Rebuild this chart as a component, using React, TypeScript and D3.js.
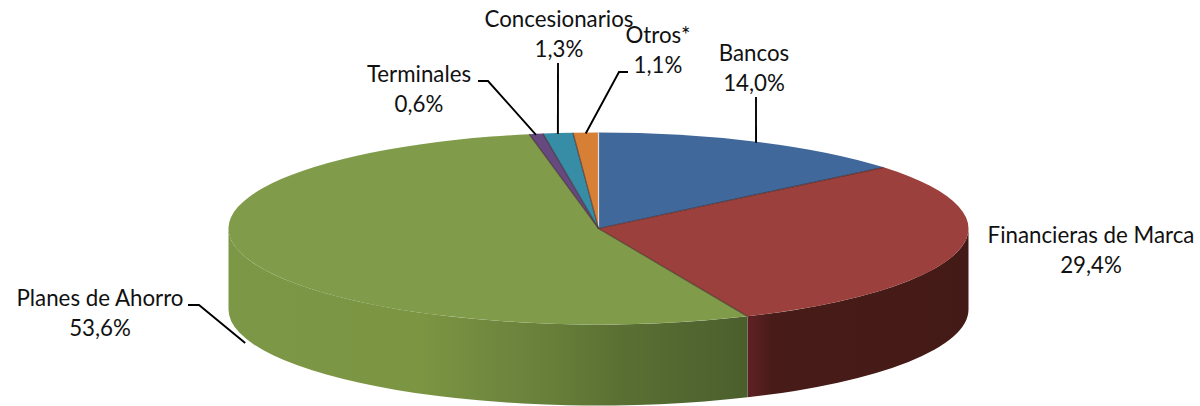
import { useEffect, useRef } from 'react';
import * as d3 from 'd3';

const WIDTH = 1200;
const HEIGHT = 406;

// participacion por canal, en el orden de la torta (sentido horario desde las 12)
const categories = ['Bancos', 'Financieras de Marca', 'Planes de Ahorro', 'Terminales', 'Concesionarios', 'Otros*'];
const shares = [14.0, 29.4, 53.6, 0.6, 1.3, 1.1];
const topColors = ['#41689a', '#9b403d', '#809b49', '#65497f', '#378ca6', '#d67f35'];

// geometria de la torta
const CX = 598.5;
const CY = 228.5;
const RX = 370;
const RY = 96;
const DEPTH = 81;

// ubicacion de cada etiqueta (centro del texto y linea base del nombre)
const labelX = [754, 1091, 100, 419, 559, 658];
const labelY = [61, 243, 306, 82, 27, 43];
const LINE_GAP = 30;

// recorrido de las lineas guia: desde donde salen, codo opcional y caida extra sobre el borde
const leaderStart: [number, number][] = [[756, 97], [0, 0], [188, 305], [478, 81], [558, 63], [628, 72]];
const leaderElbow: ([number, number] | null)[] = [null, null, [199, 305], [488, 81], null, [619, 72]];
const leaderDrop = [0, 0, 85, 0, 0, 0];
const hasLeader = [true, false, true, true, true, true];

const fmt = (v: number) => `${v.toFixed(1).replace('.', ',')}%`;

export default function App() {
  const svgRef = useRef<SVGSVGElement>(null);

  useEffect(() => {
    if (!svgRef.current) return;
    const svg = d3.select(svgRef.current);
    svg.selectAll('*').remove();

    const data = shares.map((value, i) => ({ value, i }));
    const arcs = d3.pie<{ value: number; i: number }>().value((d) => d.value).sort(null)(data);

    const px = d3.scaleLinear().domain([-1, 1]).range([CX - RX, CX + RX]);
    const py = d3.scaleLinear().domain([-1, 1]).range([CY - RY, CY + RY]);
    const pt = (a: number, dy = 0): [number, number] => [px(Math.sin(a)), py(-Math.cos(a)) + dy];

    // degradados del lateral
    const defs = svg.append('defs');
    const addGrad = (id: string, stops: [number, string][]) => {
      const g = defs
        .append('linearGradient')
        .attr('id', id)
        .attr('gradientUnits', 'userSpaceOnUse')
        .attr('x1', CX - RX)
        .attr('x2', CX + RX)
        .attr('y1', 0)
        .attr('y2', 0);
      stops.forEach(([o, c]) => g.append('stop').attr('offset', o).attr('stop-color', c));
    };
    addGrad('side-green', [
      [0, '#7c9746'],
      [0.26, '#7b9543'],
      [0.39, '#6c843c'],
      [0.45, '#657d38'],
      [0.53, '#5a7033'],
      [0.7, '#4b5f2d'],
    ]);
    addGrad('side-red', [
      [0.7, '#5e2026'],
      [0.71, '#5a2022'],
      [0.735, '#471b18'],
      [1, '#441a17'],
    ]);

    // lateral: solo la parte frontal (de 90 a 270 grados) queda a la vista
    const sidePath = (a0: number, a1: number) => {
      const from = Math.max(a0, Math.PI / 2);
      const to = Math.min(a1, (3 * Math.PI) / 2);
      const [x0, y0] = pt(from);
      const [x1, y1] = pt(to);
      return `M${x0},${y0}A${RX},${RY} 0 0 1 ${x1},${y1}L${x1},${y1 + DEPTH}A${RX},${RY} 0 0 0 ${x0},${y0 + DEPTH}Z`;
    };
    const sideFill = ['', 'url(#side-red)', 'url(#side-green)'];
    svg
      .append('g')
      .selectAll('path')
      .data(arcs.filter((d) => d.data.i === 1 || d.data.i === 2))
      .join('path')
      .attr('d', (d) => sidePath(d.startAngle, d.endAngle))
      .attr('fill', (d) => sideFill[d.data.i]);

    // cara superior: d3.arc circular aplastado a elipse
    const arc = d3.arc<d3.PieArcDatum<{ value: number; i: number }>>().innerRadius(0).outerRadius(RX);
    svg
      .append('g')
      .attr('transform', `translate(${CX},${CY}) scale(1,${RY / RX})`)
      .selectAll('path')
      .data(arcs)
      .join('path')
      .attr('d', arc)
      .attr('fill', (d) => topColors[d.data.i]);

    // filetes entre porciones, solo en los radios
    svg
      .append('g')
      .selectAll('line')
      .data(arcs)
      .join('line')
      .attr('x1', CX)
      .attr('y1', CY)
      .attr('x2', (d) => pt(d.startAngle)[0])
      .attr('y2', (d) => pt(d.startAngle)[1])
      .attr('stroke', (d) => (d.data.i === 0 ? '#e8e8e8' : '#3a2222'))
      .attr('stroke-opacity', (d) => (d.data.i === 0 ? 0.9 : 0.6))
      .attr('stroke-width', 1.2);

    // lineas guia
    const line = d3.line();
    svg
      .append('g')
      .selectAll('path')
      .data(arcs.filter((d) => hasLeader[d.data.i]))
      .join('path')
      .attr('d', (d) => {
        const i = d.data.i;
        const end = pt((d.startAngle + d.endAngle) / 2, leaderDrop[i] + 1);
        const elbow = leaderElbow[i];
        return line(elbow ? [leaderStart[i], elbow, end] : [leaderStart[i], end]);
      })
      .attr('fill', 'none')
      .attr('stroke', '#000')
      .attr('stroke-width', 1.9);

    // etiquetas
    const labels = svg
      .append('g')
      .style('font-family', 'Lato, sans-serif')
      .style('font-size', '22.3px')
      .attr('fill', '#111')
      .attr('text-anchor', 'middle')
      .selectAll('text')
      .data(categories)
      .join('text')
      .attr('transform', (_, i) => `translate(${labelX[i]},${labelY[i]})`);
    labels.append('tspan').attr('x', 0).attr('y', 0).text((d) => d);
    labels.append('tspan').attr('x', 0).attr('y', LINE_GAP).text((_, i) => fmt(shares[i]));
  }, []);

  return (
    <svg
      ref={svgRef}
      width={WIDTH}
      height={HEIGHT}
      viewBox={`0 0 ${WIDTH} ${HEIGHT}`}
      style={{ position: 'absolute', left: 0, top: 0, background: '#fff' }}
    />
  );
}
